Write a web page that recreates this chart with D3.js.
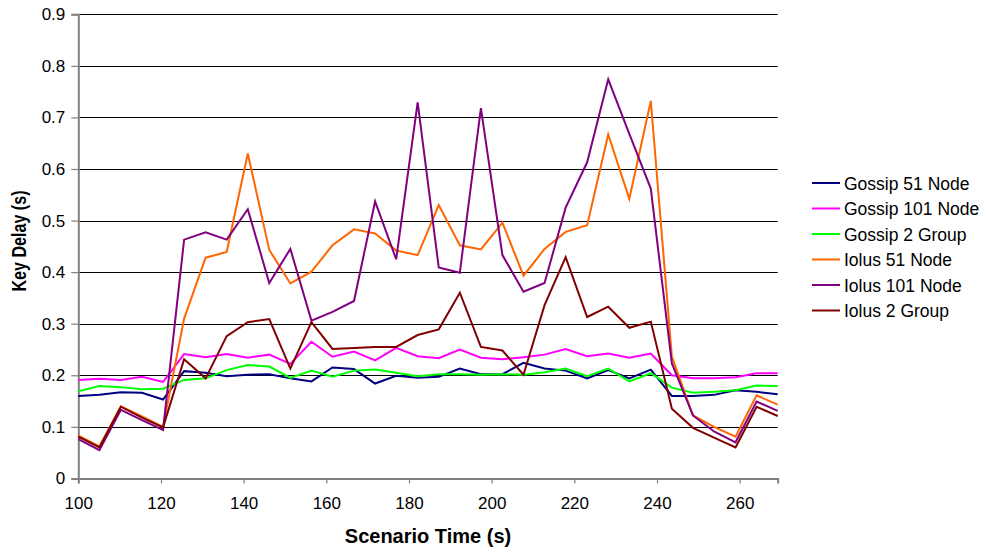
<!DOCTYPE html>
<html>
<head>
<meta charset="utf-8">
<script src="https://cdn.jsdelivr.net/npm/d3@7/dist/d3.min.js"></script>
<style>
  html, body { margin: 0; padding: 0; background: #fff; }
  svg { display: block; }
  text { font-family: "Liberation Sans", Arial, sans-serif; fill: #000; }
</style>
</head>
<body>
<svg id="chart" width="986" height="553"></svg>
<script>
// Sample times (s) of the scenario
const times = [100.0, 105.1, 110.3, 115.4, 120.5, 125.6, 130.8, 135.9, 141.0, 146.2,
               151.3, 156.4, 161.5, 166.7, 171.8, 176.9, 182.1, 187.2, 192.3, 197.4,
               202.6, 207.7, 212.8, 217.9, 223.1, 228.2, 233.3, 238.5, 243.6, 248.7,
               253.8, 259.0, 264.1, 269.2];

// Key delay (s) per configuration
const gossip51 = [0.160, 0.162, 0.167, 0.166, 0.153, 0.208, 0.205, 0.198, 0.201, 0.202,
                  0.194, 0.188, 0.215, 0.212, 0.184, 0.199, 0.195, 0.197, 0.213, 0.202,
                  0.202, 0.224, 0.213, 0.209, 0.194, 0.210, 0.194, 0.211, 0.160, 0.160,
                  0.162, 0.171, 0.168, 0.163];
const gossip101 = [0.191, 0.193, 0.191, 0.197, 0.187, 0.241, 0.235, 0.241, 0.234, 0.240,
                   0.222, 0.265, 0.236, 0.246, 0.229, 0.253, 0.237, 0.233, 0.250, 0.234,
                   0.231, 0.235, 0.240, 0.251, 0.237, 0.242, 0.234, 0.242, 0.200, 0.194,
                   0.194, 0.196, 0.204, 0.204];
const gossip2g = [0.169, 0.179, 0.177, 0.173, 0.174, 0.191, 0.194, 0.210, 0.220, 0.217,
                  0.195, 0.209, 0.197, 0.209, 0.211, 0.205, 0.198, 0.202, 0.202, 0.201,
                  0.202, 0.201, 0.206, 0.213, 0.198, 0.213, 0.188, 0.204, 0.176, 0.166,
                  0.168, 0.171, 0.180, 0.179];
const iolus51 = [0.083, 0.062, 0.140, 0.120, 0.100, 0.310, 0.428, 0.439, 0.630, 0.443,
                 0.378, 0.401, 0.452, 0.483, 0.475, 0.442, 0.433, 0.530, 0.452, 0.444,
                 0.496, 0.393, 0.445, 0.478, 0.491, 0.667, 0.542, 0.732, 0.236, 0.122,
                 0.100, 0.081, 0.161, 0.143];
const iolus101 = [0.076, 0.055, 0.133, 0.113, 0.094, 0.463, 0.477, 0.463, 0.522, 0.379,
                  0.445, 0.306, 0.323, 0.344, 0.537, 0.425, 0.729, 0.409, 0.399, 0.718,
                  0.433, 0.362, 0.379, 0.525, 0.613, 0.774, 0.668, 0.562, 0.223, 0.122,
                  0.091, 0.070, 0.149, 0.131];
const iolus2g = [0.081, 0.060, 0.139, 0.118, 0.099, 0.231, 0.194, 0.276, 0.303, 0.309,
                 0.213, 0.303, 0.251, 0.253, 0.255, 0.255, 0.278, 0.289, 0.360, 0.255,
                 0.248, 0.201, 0.336, 0.429, 0.313, 0.333, 0.292, 0.304, 0.135, 0.098,
                 0.079, 0.060, 0.139, 0.121];

const seriesNames = ["Gossip 51 Node", "Gossip 101 Node", "Gossip 2 Group",
                     "Iolus 51 Node", "Iolus 101 Node", "Iolus 2 Group"];
const seriesColors = ["#000080", "#ff00ff", "#00ff00", "#ff6600", "#800080", "#800000"];
const seriesValues = [gossip51, gossip101, gossip2g, iolus51, iolus101, iolus2g];

const xTicks = [100, 120, 140, 160, 180, 200, 220, 240, 260];
const yTicks = [0, 0.1, 0.2, 0.3, 0.4, 0.5, 0.6, 0.7, 0.8, 0.9];

(function () {
  const svg = d3.select("#chart");
  const plotLeft = 78.3, plotRight = 777.7, plotTop = 14.3, plotBottom = 478.4;

  const x = d3.scaleLinear().domain([100, 269.2]).range([plotLeft, plotRight]);
  const y = d3.scaleLinear().domain([0, 0.9]).range([plotBottom, plotTop]);

  // Horizontal gridlines
  svg.append("g")
    .selectAll("line")
    .data(yTicks.filter(d => d > 0))
    .join("line")
    .attr("x1", plotLeft).attr("x2", plotRight)
    .attr("y1", d => Math.round(y(d)) + 0.5)
    .attr("y2", d => Math.round(y(d)) + 0.5)
    .attr("stroke", "#000").attr("stroke-width", 1);

  // Y axis
  const yAxis = svg.append("g")
    .attr("transform", `translate(${plotLeft},0)`)
    .call(d3.axisLeft(y).tickValues(yTicks).tickSize(7).tickPadding(6)
          .tickFormat(d => d === 0 ? "0" : d3.format(".1f")(d)));
  yAxis.select(".domain").attr("stroke", "#808080").attr("stroke-width", 2);
  yAxis.selectAll(".tick line").attr("stroke", "#808080").attr("stroke-width", 1.2);
  yAxis.selectAll(".tick text")
    .attr("font-size", 17).attr("font-family", "Liberation Sans, Arial, sans-serif")
    .attr("fill", "#000");

  // X axis
  const xAxis = svg.append("g")
    .attr("transform", `translate(0,${plotBottom})`)
    .call(d3.axisBottom(x).tickValues(xTicks).tickSize(5).tickPadding(14)
          .tickFormat(d3.format("d")));
  xAxis.select(".domain").attr("stroke", "#808080").attr("stroke-width", 2);
  xAxis.selectAll(".tick line").attr("stroke", "#808080").attr("stroke-width", 1.2);
  xAxis.selectAll(".tick text")
    .attr("font-size", 17).attr("font-family", "Liberation Sans, Arial, sans-serif")
    .attr("fill", "#000");

  // Series lines
  const line = d3.line()
    .x((d, i) => x(times[i]))
    .y(d => y(d));

  svg.append("g")
    .selectAll("path")
    .data(seriesValues)
    .join("path")
    .attr("d", d => line(d))
    .attr("fill", "none")
    .attr("stroke", (d, i) => seriesColors[i])
    .attr("stroke-width", 2)
    .attr("stroke-linejoin", "miter");

  // Axis titles
  svg.append("text")
    .attr("x", 428).attr("y", 543)
    .attr("text-anchor", "middle")
    .attr("font-size", 20).attr("font-weight", "bold")
    .text("Scenario Time (s)");

  svg.append("text")
    .attr("transform", "translate(26,241) rotate(-90)")
    .attr("text-anchor", "middle")
    .attr("font-size", 21).attr("font-weight", "bold")
    .attr("textLength", 101).attr("lengthAdjust", "spacingAndGlyphs")
    .text("Key Delay (s)");

  // Legend
  const legend = svg.append("g")
    .selectAll("g")
    .data(seriesNames)
    .join("g")
    .attr("transform", (d, i) => `translate(812,${183 + i * 25.5})`);

  legend.append("line")
    .attr("x1", 0).attr("x2", 28)
    .attr("y1", 0).attr("y2", 0)
    .attr("stroke", (d, i) => seriesColors[i])
    .attr("stroke-width", 2);

  legend.append("text")
    .attr("x", 32).attr("y", 6.5)
    .attr("font-size", 17.5)
    .text(d => d);
})();
</script>
</body>
</html>
